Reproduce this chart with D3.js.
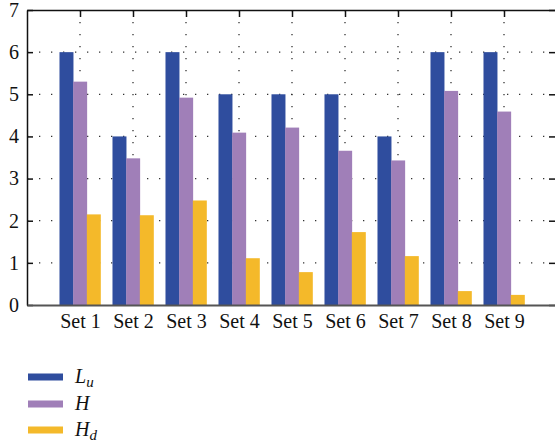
<!DOCTYPE html>
<html>
<head>
<meta charset="utf-8">
<script src="https://cdn.jsdelivr.net/npm/d3@7/dist/d3.min.js"></script>
<style>
  html, body { margin: 0; padding: 0; background: #fff; }
  svg { display: block; }
  svg text { font-family: "Liberation Serif", "Times New Roman", serif !important; fill: #111; }
</style>
</head>
<body>
<svg id="chart" width="555" height="444"></svg>
<script>
// Data
const categories = ["Set 1", "Set 2", "Set 3", "Set 4", "Set 5", "Set 6", "Set 7", "Set 8", "Set 9"];
const valuesLu = [6, 4, 6, 5, 5, 5, 4, 6, 6];
const valuesH  = [5.30, 3.48, 4.92, 4.09, 4.21, 3.66, 3.43, 5.08, 4.59];
const valuesHd = [2.15, 2.13, 2.48, 1.11, 0.78, 1.73, 1.16, 0.33, 0.24];
const yTicks = [0, 1, 2, 3, 4, 5, 6, 7];
const seriesNames = [["L", "u"], ["H", ""], ["H", "d"]];

const series = [
  { name: seriesNames[0], values: valuesLu, color: "#2f4d9e" },
  { name: seriesNames[1], values: valuesH,  color: "#a07fb8" },
  { name: seriesNames[2], values: valuesHd, color: "#f4b92a" }
];

const svg = d3.select("#chart");
const plotLeft = 27, plotRight = 557, plotTop = 10, plotBottom = 305;

const x = d3.scaleLinear().domain([0, categories.length + 1]).range([plotLeft, plotRight]);
const y = d3.scaleLinear().domain([0, 7]).range([plotBottom, plotTop]);

const barW = (x(1) - x(0)) * 0.258;

// Dotted grid
const grid = svg.append("g").attr("stroke", "#333").attr("stroke-width", 1.3)
  .attr("stroke-dasharray", "1.3,10.7").attr("fill", "none");
grid.selectAll("line.h").data(yTicks.slice(1, -1)).join("line")
  .attr("class", "h")
  .attr("x1", plotLeft).attr("x2", plotRight)
  .attr("y1", d => y(d)).attr("y2", d => y(d));
grid.selectAll("line.v").data(categories).join("line")
  .attr("class", "v")
  .attr("x1", (d, i) => x(i + 1)).attr("x2", (d, i) => x(i + 1))
  .attr("y1", plotTop).attr("y2", plotBottom);

// Bars
series.forEach((s, si) => {
  svg.append("g").attr("fill", s.color)
    .selectAll("rect").data(s.values).join("rect")
    .attr("x", (d, i) => x(i + 1) + (si - 1.5) * barW)
    .attr("width", barW + 0.3)
    .attr("y", d => y(d))
    .attr("height", d => y(0) - y(d));
});

// Axes frame
const yAxisL = d3.axisLeft(y).tickValues(yTicks).tickSizeInner(-6).tickSizeOuter(0).tickPadding(8)
  .tickFormat(d3.format("d"));
const gL = svg.append("g").attr("transform", `translate(${plotLeft},0)`).call(yAxisL);
gL.select(".domain").attr("stroke", "#111").attr("stroke-width", 1.5);
gL.selectAll(".tick line").attr("stroke", "#111").attr("stroke-width", 1.5);
gL.selectAll(".tick text").attr("font-size", 20).attr("fill", "#111");

const yAxisR = d3.axisRight(y).tickValues(yTicks).tickSizeInner(-8).tickSizeOuter(0).tickFormat("");
const gR = svg.append("g").attr("transform", `translate(${plotRight},0)`).call(yAxisR);
gR.select(".domain").attr("stroke", "#111").attr("stroke-width", 1.5);
gR.selectAll(".tick line").attr("stroke", "#111").attr("stroke-width", 1.5);

const xAxisT = d3.axisTop(x).tickValues(d3.range(1, categories.length + 1)).tickSizeInner(-7).tickSizeOuter(0).tickFormat("");
const gT = svg.append("g").attr("transform", `translate(0,${plotTop})`).call(xAxisT);
gT.select(".domain").attr("stroke", "#111").attr("stroke-width", 1.5);
gT.selectAll(".tick line").attr("stroke", "#111").attr("stroke-width", 1.5);

const xAxisB = d3.axisBottom(x).tickValues(d3.range(1, categories.length + 1)).tickSize(0).tickPadding(9)
  .tickFormat(d => categories[d - 1]);
const gB = svg.append("g").attr("transform", `translate(0,${plotBottom})`).call(xAxisB);
gB.select(".domain").attr("stroke", "#555").attr("stroke-width", 2.2);
gB.selectAll(".tick text").attr("font-size", 20).attr("fill", "#111");

// Legend
const legend = svg.append("g");
const legendY = [377, 404, 430];
series.forEach((s, i) => {
  legend.append("rect").attr("x", 28).attr("y", legendY[i] - 3.5).attr("width", 35).attr("height", 7).attr("fill", s.color);
  const t = legend.append("text").attr("x", 75).attr("y", legendY[i] + 6)
    .attr("font-size", 20).attr("font-style", "italic");
  t.append("tspan").text(s.name[0]);
  if (s.name[1]) {
    t.append("tspan").attr("dy", 4).attr("font-size", 15).text(s.name[1]);
  }
});
</script>
</body>
</html>
